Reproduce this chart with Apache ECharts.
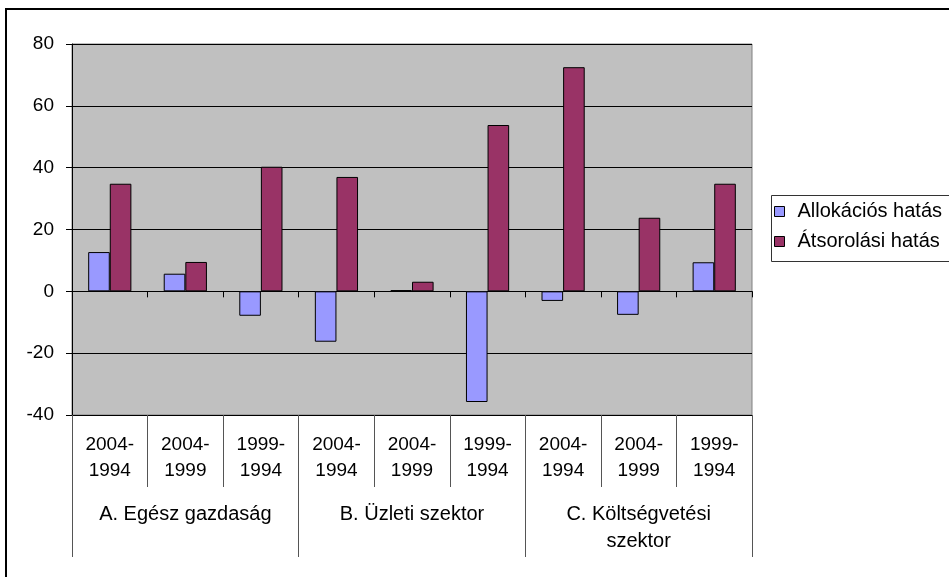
<!DOCTYPE html>
<html>
<head>
<meta charset="utf-8">
<script src="https://cdn.jsdelivr.net/npm/echarts@6/dist/echarts.min.js"></script>
<style>
  html, body { margin: 0; padding: 0; background: #fff; }
  #chart { width: 949px; height: 577px; }
</style>
</head>
<body>
<div id="chart"></div>
<script>
// ---- data ----
const categories = [
  '2004-\n1994', '2004-\n1999', '1999-\n1994',
  '2004-\n1994', '2004-\n1999', '1999-\n1994',
  '2004-\n1994', '2004-\n1999', '1999-\n1994'
];
const groups = ['A. Egész gazdaság', 'B. Üzleti szektor', 'C. Költségvetési\nszektor'];
const seriesNames = ['Allokációs hatás', 'Átsorolási hatás'];
const allokacios = [12.7, 5.7, -7.9, -16.3, 0.4, -35.8, -3.1, -7.6, 9.4];
const atsorolasi = [34.8, 9.5, 40.3, 37.0, 3.1, 53.8, 72.5, 23.8, 34.8];
const yMin = -40, yMax = 80, yStep = 20;

const FONT = '"Liberation Sans", Arial, sans-serif';
const FS = 19;
const FS_TEXT = 20;

const chart = echarts.init(document.getElementById('chart'), null, { renderer: 'canvas' });

const option = {
  animation: false,
  backgroundColor: '#ffffff',
  textStyle: { fontFamily: FONT, color: '#000' },
  grid: {
    left: 72, top: 44, width: 680, height: 371,
    show: true,
    backgroundColor: '#C0C0C0',
    borderColor: '#808080',
    borderWidth: 1,
    containLabel: false,
    outerBoundsMode: 'none'
  },
  legend: {
    show: true,
    orient: 'vertical',
    left: 774,
    top: 201,
    itemWidth: 10,
    itemHeight: 10,
    itemGap: 9,
    icon: 'rect',
    padding: 0,
    itemStyle: { borderColor: '#000', borderWidth: 1 },
    textStyle: { fontFamily: FONT, fontSize: FS_TEXT, color: '#000', lineHeight: 21, padding: [0, 0, 0, 8] },
    data: seriesNames
  },
  xAxis: [
    {
      type: 'category',
      data: categories,
      position: 'bottom',
      axisLine: { show: true, onZero: true, lineStyle: { color: '#000', width: 1 } },
      axisTick: { show: true, interval: 0, length: 6, inside: false, lineStyle: { color: '#000', width: 1 } },
      axisLabel: { show: false },
      splitLine: { show: false }
    },
    {
      type: 'category',
      data: categories,
      position: 'bottom',
      axisLine: { show: false, onZero: false },
      axisTick: { show: true, interval: 0, length: 72, lineStyle: { color: '#555', width: 1 } },
      axisLabel: {
        show: true, interval: 0, margin: 17,
        fontFamily: FONT, fontSize: FS, color: '#000', lineHeight: 26, align: 'center'
      },
      splitLine: { show: false }
    },
    {
      type: 'category',
      data: groups,
      position: 'bottom',
      axisLine: { show: false, onZero: false },
      axisTick: { show: true, interval: 0, length: 142, lineStyle: { color: '#555', width: 1 } },
      axisLabel: {
        show: true, interval: 0, margin: 86,
        fontFamily: FONT, fontSize: FS_TEXT, color: '#000', lineHeight: 27, align: 'center'
      },
      splitLine: { show: false }
    }
  ],
  yAxis: {
    type: 'value',
    min: yMin, max: yMax, interval: yStep,
    axisLine: { show: true, lineStyle: { color: '#000', width: 1 } },
    axisTick: { show: true, length: 6, lineStyle: { color: '#000', width: 1 } },
    axisLabel: { show: true, margin: 18, fontFamily: FONT, fontSize: FS, color: '#000' },
    splitLine: { show: true, lineStyle: { color: '#000', width: 1 } }
  },
  series: [
    {
      name: seriesNames[0],
      type: 'bar',
      xAxisIndex: 0,
      data: allokacios,
      barWidth: 21.6,
      barGap: '0%',
      itemStyle: { color: '#9999FF', borderColor: '#000', borderWidth: 1 },
      emphasis: { disabled: true }
    },
    {
      name: seriesNames[1],
      type: 'bar',
      xAxisIndex: 0,
      data: atsorolasi,
      barWidth: 21.6,
      barGap: '0%',
      itemStyle: { color: '#993366', borderColor: '#000', borderWidth: 1 },
      emphasis: { disabled: true }
    }
  ],
  graphic: [
    {
      type: 'rect',
      silent: true,
      shape: { x: 6, y: 9, width: 1200, height: 1200 },
      style: { fill: 'none', stroke: '#000', lineWidth: 2 },
      z: 100
    },
    {
      type: 'rect',
      silent: true,
      shape: { x: 771.5, y: 195.5, width: 400, height: 66 },
      style: { fill: 'none', stroke: '#333', lineWidth: 1 },
      z: 100
    }
  ]
};

chart.setOption(option);
</script>
</body>
</html>
